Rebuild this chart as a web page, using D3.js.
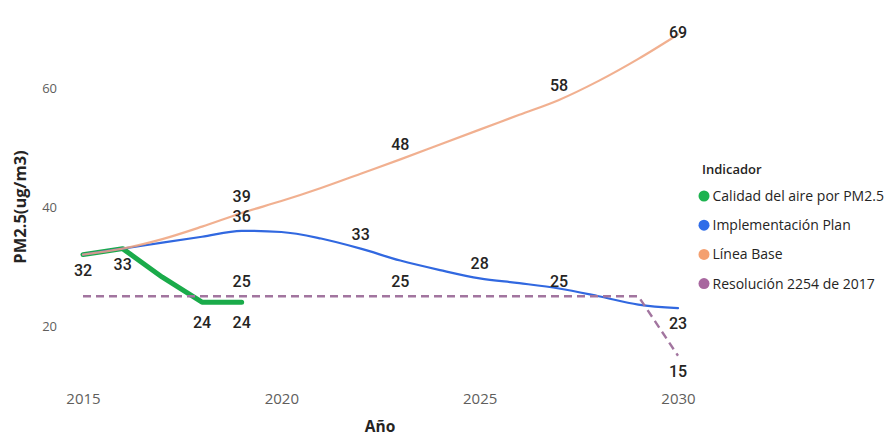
<!DOCTYPE html>
<html>
<head>
<meta charset="utf-8">
<script src="https://cdn.jsdelivr.net/npm/d3@7/dist/d3.min.js"></script>
<style>
  html, body { margin: 0; padding: 0; background: #fff; }
  svg { display: block; }
</style>
</head>
<body>
<svg id="chart" width="893" height="436"></svg>
<script>
// Años del eje X
const years = d3.range(2015, 2031);

// Series de PM2.5 (ug/m3)
const calidadAire = [32, 33, 28.2, 24, 24];
const implementacionPlan = [32, 33, 34, 35, 36, 35.8, 34.7, 33, 31, 29.4, 28, 27.2, 26.3, 25, 23.6, 23];
const lineaBase = [32, 33, 34.6, 36.7, 39, 41, 43.2, 45.6, 48, 50.5, 53, 55.5, 58, 61.2, 64.9, 69];
const resolucion = [25, 25, 25, 25, 25, 25, 25, 25, 25, 25, 25, 25, 25, 25, 25, 15];

// Marcas de los ejes
const yTicks = [20, 40, 60];
const xTicks = [2015, 2020, 2025, 2030];

const series = [
  { name: "Calidad del aire por PM2.5", values: calidadAire, color: "#1aab4a", width: 5, dash: null, smooth: false },
  { name: "Implementación Plan", values: implementacionPlan, color: "#3168e0", width: 2.2, dash: null, smooth: true },
  { name: "Línea Base", values: lineaBase, color: "#eea27c", width: 2.2, dash: null, smooth: true },
  { name: "Resolución 2254 de 2017", values: resolucion, color: "#a2759f", width: 2.4, dash: "8,5", smooth: false }
];
const legendColors = ["#1db34f", "#2f6ce8", "#f4a070", "#a8679f"];

// Etiquetas de datos: serie, año, lado
const labels = [
  { s: 0, year: 2015, side: "below" },
  { s: 0, year: 2016, side: "below" },
  { s: 0, year: 2018, side: "below", extra: 5 },
  { s: 0, year: 2019, side: "below", extra: 5 },
  { s: 2, year: 2019, side: "above", extra: -2 },
  { s: 1, year: 2019, side: "above" },
  { s: 3, year: 2019, side: "above" },
  { s: 2, year: 2023, side: "above" },
  { s: 1, year: 2022, side: "above" },
  { s: 3, year: 2023, side: "above" },
  { s: 1, year: 2025, side: "above" },
  { s: 2, year: 2027, side: "above" },
  { s: 3, year: 2027, side: "above" },
  { s: 2, year: 2030, side: "top" },
  { s: 1, year: 2030, side: "below" },
  { s: 3, year: 2030, side: "below" }
];

const svg = d3.select("#chart");
const x = d3.scaleLinear().domain([2015, 2030]).range([83, 678]);
const y = d3.scaleLinear().domain([20, 60]).range([326, 88]);

const uiFont = "'Open Sans', 'Noto Sans', sans-serif";

// Eje Y
const yAxis = svg.append("g")
  .attr("transform", "translate(57,0)")
  .call(d3.axisLeft(y).tickValues(yTicks).tickSize(0).tickPadding(0));
yAxis.select(".domain").remove();
yAxis.selectAll("text")
  .attr("fill", "#605e5c")
  .style("font-family", uiFont)
  .style("font-size", "13px");

// Eje X
const xAxis = svg.append("g")
  .attr("transform", "translate(0,393)")
  .call(d3.axisBottom(x).tickValues(xTicks).tickFormat(d3.format("d")).tickSize(0).tickPadding(0));
xAxis.select(".domain").remove();
xAxis.selectAll("text")
  .attr("fill", "#605e5c")
  .style("font-family", uiFont)
  .style("font-size", "15px");

// Títulos de ejes
svg.append("text")
  .attr("x", 380).attr("y", 432)
  .attr("text-anchor", "middle")
  .style("font-family", uiFont)
  .style("font-weight", 700)
  .style("font-size", "15.5px")
  .attr("fill", "#252423")
  .text("Año");

svg.append("text")
  .attr("transform", "translate(26,207) rotate(-90)")
  .attr("text-anchor", "middle")
  .style("font-family", uiFont)
  .style("font-weight", 700)
  .style("font-size", "16.5px")
  .attr("fill", "#252423")
  .text("PM2.5(ug/m3)");

// Líneas
series.forEach(s => {
  const line = d3.line()
    .x((d, i) => x(years[i]))
    .y(d => y(d))
    .curve(s.smooth ? d3.curveMonotoneX : d3.curveLinear);
  svg.append("path")
    .datum(s.values)
    .attr("fill", "none")
    .attr("stroke", s.color)
    .attr("stroke-width", s.width)
    .attr("stroke-linejoin", "round")
    .attr("stroke-linecap", s.dash ? "butt" : "round")
    .attr("stroke-dasharray", s.dash)
    .attr("stroke-opacity", s.name === "Línea Base" ? 0.85 : 1)
    .attr("d", line);
});

// Etiquetas de datos
svg.append("g").selectAll("text")
  .data(labels)
  .join("text")
  .attr("x", d => x(d.year))
  .attr("y", d => {
    const v = series[d.s].values[d.year - 2015];
    const base = y(v);
    if (d.side === "above") return base - 9 + (d.extra || 0);
    if (d.side === "top") return base + 4;
    return base + 21 + (d.extra || 0);
  })
  .attr("text-anchor", "middle")
  .style("font-family", "Roboto, 'DejaVu Sans', sans-serif")
  .style("font-weight", 500)
  .style("font-size", "16px")
  .attr("fill", "#252423")
  .text(d => d3.format("d")(Math.round(series[d.s].values[d.year - 2015])));

// Leyenda
const legend = svg.append("g").attr("transform", "translate(697,0)");
legend.append("text")
  .attr("x", 5).attr("y", 174)
  .style("font-family", uiFont)
  .style("font-weight", 600)
  .style("font-size", "13px")
  .attr("fill", "#252423")
  .text("Indicador");

const items = legend.selectAll("g.item")
  .data(series)
  .join("g")
  .attr("class", "item")
  .attr("transform", (d, i) => `translate(0,${196 + i * 29.2})`);
items.append("circle")
  .attr("cx", 7).attr("cy", 0).attr("r", 5.5)
  .attr("fill", (d, i) => legendColors[i]);
items.append("text")
  .attr("x", 15.5).attr("y", 5)
  .style("font-family", uiFont)
  .style("font-size", "14px")
  .attr("fill", "#252423")
  .text(d => d.name);
</script>
</body>
</html>
